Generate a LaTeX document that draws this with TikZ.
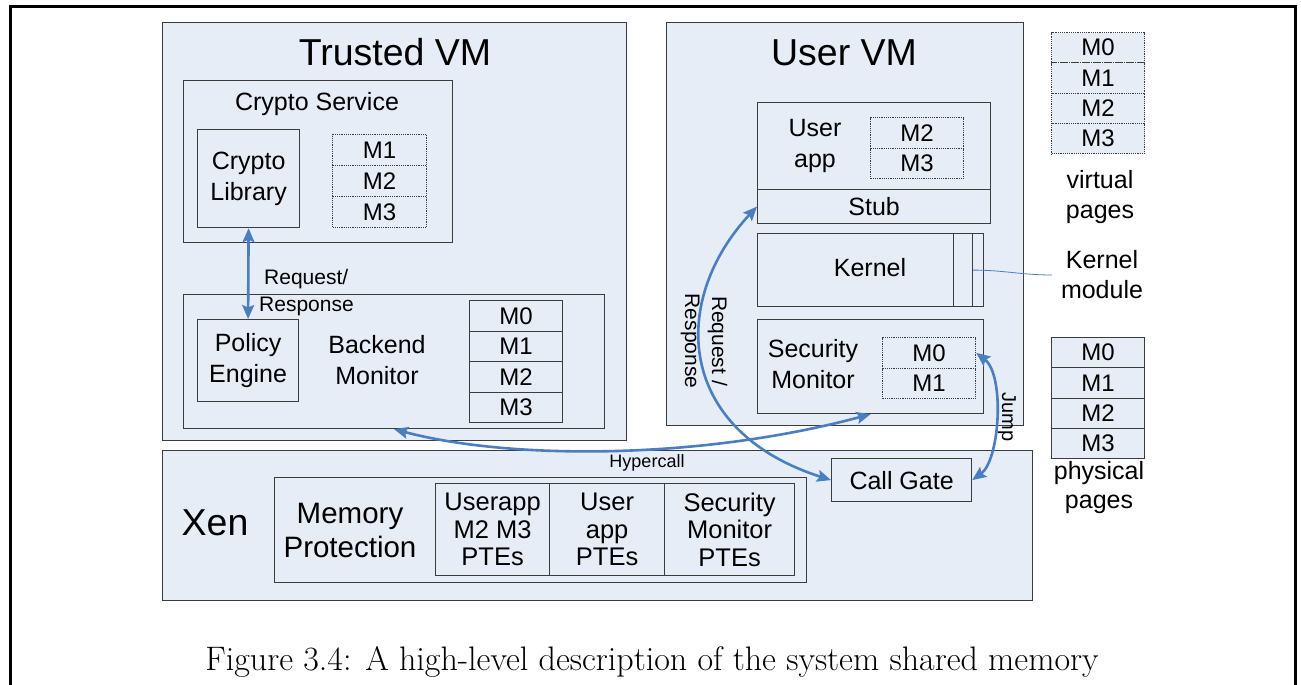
\documentclass[tikz,border=0pt]{standalone}
\usepackage{fontspec}
\newfontfamily\arialfont{Liberation Sans}
\usepackage{tikz}
\usetikzlibrary{arrows.meta}
\usetikzlibrary{positioning}
\definecolor{boxfill}{RGB}{231,237,247}
\definecolor{boxline}{RGB}{60,60,60}
\definecolor{linkblue}{RGB}{74,126,192}

\tikzset{
  boxat/.style n args = {4}{anchor = north west, at = {(#1, #2)}, minimum width = {#3 - #1}, minimum height = {#4 - #2}},
  box/.style = {draw = boxline, fill = boxfill, line width = 1.2pt, inner sep = 0pt},
  txt/.style = {font = \arialfont\fontsize{25}{31}\selectfont, align = center, inner sep = 0pt},
  bigtxt/.style = {font = \arialfont\fontsize{37.5}{40}\selectfont, inner sep = 0pt},
  smalltxt/.style = {font = \arialfont\fontsize{21}{27}\selectfont, inner sep = 0pt},
  cell/.style = {box, font = \arialfont\fontsize{24}{26}\selectfont, anchor = north west},
  dotcell/.style = {cell, densely dotted},
  ptetxt/.style = {txt, font = \arialfont\fontsize{25.5}{27.5}\selectfont},
  link/.style = {draw = linkblue, line width = 2.6pt, {Stealth[length = 14pt, width = 12pt, inset = 2.5pt]}-{Stealth[length = 14pt, width = 12pt, inset = 2.5pt]}}
}

\begin{document}
\begin{tikzpicture}[x = 1pt, y = -1pt]
\useasboundingbox (0, 0) rectangle (1301, 685);

% page frame
\draw [line width = 3pt] (10, 685) -- (10, 7) -- (1295, 7) -- (1295, 685);

% trusted VM
\node [box, boxat = {162}{22}{626}{440}] (tvm) {};
\node [bigtxt] (tvmlbl) at (395, 52) {Trusted VM};
\node [box, boxat = {183}{80}{452}{242}] (csvc) {};
\node [txt] (csvclbl) at (317, 104) {Crypto Service};
\node [box, txt, boxat = {197}{129}{299}{227}] (clib) {Crypto\\Library};
\foreach \m [count = \i from 0] in {1, 2, 3}
  \node [dotcell, minimum width = 94, minimum height = 31] (tm\m) at (332, {134 + 31*\i}) {M\m};

\node [box, boxat = {183}{294}{604}{428}] (bmon) {};
\node [box, txt, boxat = {197}{319}{298}{401}] (peng) {Policy\\Engine};
\node [txt] (bmonlbl) at (377, 360) {Backend\\Monitor};
\foreach \m in {0, ..., 3}
  \node [cell, minimum width = 93, minimum height = 30.5] (bm\m) at (469, {300 + 30.5*\m}) {M\m};

\draw [link] (clib.south) -- (peng.north);
\node [smalltxt, align = left, anchor = west] (reqlbl) at (259, 293) {\hspace*{5pt}Request/\\Response};

% user VM
\node [box, boxat = {666}{22}{1023}{425}] (uvm) {};
\node [bigtxt] (uvmlbl) at (844, 53) {User VM};
\node [box, boxat = {757}{102}{990}{189}] (uapp) {};
\node [txt] (uapplbl) at (815, 146) {User\\app};
\foreach \m [count = \i from 0] in {2, 3}
  \node [dotcell, minimum width = 93, minimum height = 30.5] (um\m) at (870, {117 + 30.5*\i}) {M\m};
\node [box, txt, boxat = {757}{189}{990}{223}] (stub) {Stub};

\node [box, boxat = {757}{233}{983}{306}] (kern) {};
\node [txt] (kernlbl) at (870, 268) {Kernel};
\node [box, boxat = {953}{233}{972}{306}] (kmod) {};

\node [box, boxat = {757}{319}{983}{413}] (smon) {};
\node [txt] (smonlbl) at (813, 364.5) {Security\\Monitor};
\foreach \m in {0, 1}
  \node [dotcell, minimum width = 93, minimum height = 30.5] (sm\m) at (882, {337 + 30.5*\m}) {M\m};

% xen
\node [box, boxat = {162}{450}{1032}{600}] (xen) {};
\node [bigtxt] (xenlbl) at (215, 523) {Xen};
\node [box, boxat = {274}{477}{806}{582}] (mprot) {};
\node [txt, font = \arialfont\fontsize{29.5}{34}\selectfont] (mprotlbl) at (350, 530) {Memory\\Protection};
\node [box, ptetxt, boxat = {435}{483}{549}{575}] (pte1) {Userapp\\M2 M3\\PTEs};
\node [box, ptetxt, boxat = {549}{483}{664}{575}] (pte2) {User\\app\\PTEs};
\node [box, ptetxt, boxat = {664}{483}{794}{575}] (pte3) {Security\\Monitor\\PTEs};
\node [box, txt, boxat = {831}{458}{971}{501}] (cgate) {Call Gate};
\node [font = \arialfont\fontsize{18}{20}\selectfont, inner sep = 0pt] (hyplbl) at (647, 463) {Hypercall};

% pages
\foreach \m in {0, ..., 3}
  \node [dotcell, minimum width = 93, minimum height = 30.25] (vp\m) at (1051, {32 + 30.25*\m}) {M\m};
\node [txt, font = \arialfont\fontsize{25}{30}\selectfont] (vplbl) at (1100, 197) {virtual\\pages};
\node [txt, font = \arialfont\fontsize{25}{30}\selectfont] (kmlbl) at (1102, 275) {Kernel\\module};
\foreach \m in {0, ..., 3}
  \node [cell, minimum width = 93, minimum height = 30.25] (pp\m) at (1051, {337 + 30.25*\m}) {M\m};
\node [txt, font = \arialfont\fontsize{25}{29}\selectfont] (pplbl) at (1099, 487.5) {physical\\pages};

\draw [linkblue, line width = 0.8pt] (kmod.east) to [out = 0, in = 180] ([xshift = -9pt] kmlbl.west);

% calls
\draw [link] (bmon.south) .. controls (510, 460) and (700, 460) .. (smon.south);
\draw [link] (stub.west) .. controls (670, 300) and (675, 430) .. (cgate.west);
\node [smalltxt, align = center, rotate = -90] (rrlbl) at (704, 341) {Request /\\Response};
\draw [link] (sm0.east) .. controls (1005, 375) and (1000, 460) .. (cgate.east);
\node [font = \arialfont\fontsize{20}{22}\selectfont, inner sep = 0pt, rotate = -90] (jumplbl) at (1007, 417) {Jump};

% caption
\node [font = \fontsize{34}{40}\selectfont, inner sep = 0pt] (caption) at (652, 662) {Figure 3.4: A high-level description of the system shared memory};
\end{tikzpicture}
\end{document}
